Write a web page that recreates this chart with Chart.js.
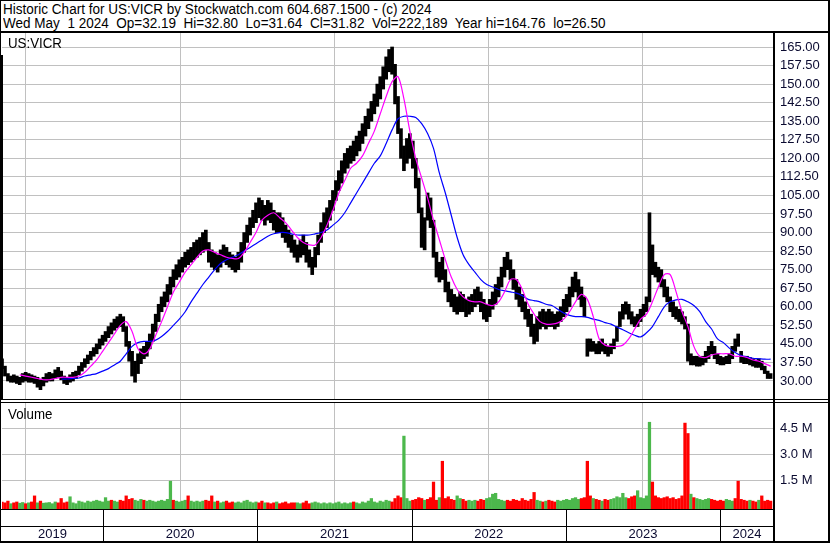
<!DOCTYPE html>
<html><head><meta charset="utf-8">
<script src="https://cdn.jsdelivr.net/npm/chart.js@4.4.1/dist/chart.umd.min.js"></script>
<style>
html,body{margin:0;padding:0;background:#fff;}
#wrap{position:relative;width:830px;height:543px;overflow:hidden;background:#fff;font-family:"Liberation Sans",Arial,sans-serif;}
.hl{position:absolute;background:#000;}
.txt{position:absolute;white-space:pre;font-size:14px;color:#000;line-height:14px;transform-origin:0 0;}
canvas{position:absolute;}
</style></head>
<body><div id="wrap">
<canvas id="pc" width="826" height="366" style="left:2px;top:33px"></canvas>
<canvas id="vc" width="826" height="140" style="left:2px;top:403px"></canvas>
<div class="txt" style="left:3px;top:2px;transform:scaleX(0.966)">Historic Chart for US:VICR by Stockwatch.com 604.687.1500 - (c) 2024</div>
<div class="txt" style="left:3px;top:16px;transform:scaleX(0.966)">Wed May  1 2024  Op=32.19  Hi=32.80  Lo=31.64  Cl=31.82  Vol=222,189  Year hi=164.76  lo=26.50</div>
<div class="txt" style="left:8px;top:36px;transform:scaleX(0.95)">US:VICR</div>
<div class="txt" style="left:8px;top:407px;transform:scaleX(0.95)">Volume</div>
<div class="hl" style="left:0;top:0;width:830px;height:1px"></div>
<div class="hl" style="left:0;top:0;width:1px;height:543px"></div>
<div class="hl" style="left:828px;top:0;width:2px;height:543px"></div>
<div class="hl" style="left:0;top:541px;width:830px;height:2px"></div>
<div class="hl" style="left:0;top:31px;width:830px;height:2px"></div>
<div class="hl" style="left:0;top:399px;width:830px;height:1px"></div>
<div class="hl" style="left:0;top:402px;width:830px;height:1px"></div>
<div class="hl" style="left:0;top:509px;width:775px;height:1px"></div>
<div class="hl" style="left:0;top:526px;width:775px;height:1px"></div>
<div class="hl" style="left:773px;top:31px;width:2px;height:512px"></div>
<div class="hl" style="left:0;top:55px;width:3px;height:344px"></div>
</div>
<script>
// ---------- DATA ----------
const firstWeek = Date.UTC(2019, 4, 7);       // first weekly bar
const axisStart = Date.UTC(2019, 4, 7);
const axisEnd   = Date.UTC(2024, 4, 8);
const yearLines = [2020, 2021, 2022, 2023, 2024];
const yearLabels = ['2019', '2020', '2021', '2022', '2023', '2024'];
const priceTicks = [30, 37.5, 45, 52.5, 60, 67.5, 75, 82.5, 90, 97.5, 105, 112.5, 120, 127.5, 135, 142.5, 150, 157.5, 165];
const volTicks = [1.5, 3.0, 4.5];

const weekHigh = [
39,36,33,32,32.5,32,31.5,33,33.5,33,
32.5,32,31.5,30.5,31.5,33,33.5,33,34.5,35.5,
34,32,31.5,32.5,33.5,34,36,37.5,39,40.5,
42,43.5,45,47,48.5,50,52,53.5,55,56,
57,56,52,46,42,38,41,43,44,46,
49,53,57,61,64,66,69,72,75,77,
79,80,82,83,84,86,87,88,90,91,
86,83,82,81,83,85,84,82,81,80,
82,86,90,93,96,99,102,104,103,101,
103,102,99,98,98,96,93,91,89,87,
85,87,89,86,83,80,84,89,94,98,
100,103,107,111,115,119,122,124,125,127,
129,131,134,137,140,143,146,150,153,157,
161,164,165,158,145,132,125,128,130,127,
120,112,100,96,106,104,95,82,78,80,
75,70,67,65,64,66,65,63,64,65,
67,68,66,63,61,63,66,69,72,76,
80,82,79,75,71,68,65,62,59,57,
53,56,58,59,58,59,58,57,58,60,
63,65,68,72,74,71,68,64,47,47,
46,45,46,47,45,44,45,47,52,58,
61,62,61,58,56,57,59,61,64,98,
85,78,76,75,71,68,64,62,60,59,
58,56,53,41,40,40,39.5,40,42,44,
46,44,41,40,39.5,40,41,44,47,49,
42,40,40,39.5,39,38.5,39,38,36,34,
33];
const weekLow = [
35,32,30,29.5,29.5,29,28.5,29.5,30,29.5,
29.5,29,27.5,26.5,28,29.5,30,30,31,31.5,
30.5,29,28.5,29.5,30,31,32.5,34,35.5,37,
38.5,40,41,43,44.5,46,47.5,49,50.5,51.5,
52,50,44,38,32,29.5,33,37,39,40,
43,46,50,54,58,60,62,65,68,71,
72,74,76,77,78,79,80,81,82,83,
78,76,75,74,76,78,77,76,75,74,
75,78,82,86,89,92,94,96,95,93,
95,94,91,90,90,88,86,84,82,80,
78,80,81,78,76,73,76,81,86,90,
92,95,99,103,107,110,114,116,118,119,
121,123,126,129,132,135,138,141,144,148,
152,155,154,142,130,120,115,118,120,116,
108,98,84,83,95,92,80,72,70,71,
66,62,60,58,57,58,58,56,57,58,
60,61,58,55,54,56,59,61,64,68,
72,75,71,67,63,60,58,55,52,48,
45,46,51,52,51,52,52,51,52,54,
56,58,60,64,66,63,60,56,40,42,
42,41,41,42,41,40,41,43,46,52,
55,57,55,53,52,52,54,56,58,62,
73,72,70,68,64,62,58,56,55,54,
53,51,38,36.5,36.5,36,36,36.5,37.5,39,
41,39,37,36.5,36.5,37,37,39,42,44,
37.5,37,37,36.5,36,35.5,35.5,34.5,33,31,
31];
// moving averages, one value every second week
const maShort = [
null,null,null,32.5,32,31.5,31,30.5,30.5,31,
31.5,31.5,31.5,32,33.5,36,38.5,42,45.5,49,
52.5,54,50,43,41,43,48.5,54,60,66,
70,74,77,80,82.5,83,82,81,80,79.5,
79.5,82,86,90,95,97,98,96,94,91,
88,86,85,85,88,93,99,106,111,116,
118,121,126,131,138,145,151,153,144,131,
120,112,104,95,87,79,72,67,64,62.5,
62,62,61,60.5,62,66,71,71,67,61,
57,54,53,53,53.5,55,58,62,65,63,
56,47,44.5,44,44,44.5,47,51,55,57,
62,68,73,73,66,58,52,44,40,39.5,
40.5,41,41,41,40,40,39.5,38.5,38,37,
36];
const maLong = [
null,null,null,null,null,null,null,null,null,null,
30.8,30.8,31,31.2,32,32.5,33,34,35,36.5,
38,41,44,45.5,46,46,46.5,48,50,52.5,
55,58,62,65.5,69,72,75,77.5,79,80,
81,82.5,84,85.5,87,88.5,89.5,90,90,89.5,
89,89,89,89.5,90,91,93,95,98,102,
106,110,114,118,121,126,131.5,136,137,137,
136.5,134,130,124,114,106,97,88,81,77,
74,71,69,68,67,66.5,66,65.5,64.5,63,
62.5,62,61,60.5,59,57.5,56.5,56,56,55.7,
55,54.5,53.6,53,51.8,50.7,49.5,48.5,47.8,49.5,
52,56,60,62,62.8,63,62,60.5,58,54,
51,47,45.5,43.3,41.5,40.3,39.7,39.2,39,38.8,
38.8];
// weekly volume (millions) and colour (g = up, r = down)
const volume = [
0.25,0.2,0.3,0.15,0.2,0.25,0.18,0.22,0.15,0.2,
0.25,0.6,0.2,0.3,0.18,0.2,0.22,0.15,0.25,0.2,
0.45,0.2,0.25,0.55,0.2,0.15,0.3,0.25,0.2,0.3,
0.25,0.3,0.35,0.3,0.25,0.5,0.3,0.35,0.3,0.25,
0.35,0.3,0.6,0.4,0.45,0.35,0.3,0.4,0.35,0.3,
0.35,0.3,0.25,0.3,0.35,0.3,0.4,1.45,0.35,0.3,
0.25,0.3,0.35,0.6,0.3,0.25,0.3,0.25,0.3,0.35,
0.3,0.6,0.25,0.3,0.2,0.25,0.3,0.2,0.25,0.2,
0.25,0.2,0.3,0.35,0.25,0.2,0.25,0.2,0.3,0.2,
0.2,0.15,0.2,0.25,0.15,0.2,0.25,0.15,0.2,0.2,
0.2,0.15,0.2,0.3,0.15,0.2,0.25,0.2,0.15,0.2,
0.15,0.2,0.15,0.2,0.25,0.15,0.2,0.15,0.2,0.25,
0.2,0.15,0.25,0.2,0.3,0.45,0.25,0.2,0.3,0.25,
0.35,0.3,0.25,0.45,0.6,0.5,4.05,0.45,0.3,0.35,
0.4,0.5,0.45,0.35,0.4,0.5,1.4,0.35,0.5,2.6,
0.45,0.55,0.4,0.35,0.6,0.45,0.4,0.3,0.35,0.3,
0.35,0.3,0.4,0.35,0.45,0.5,0.7,0.75,0.4,0.35,
0.3,0.35,0.3,0.4,0.35,0.3,0.45,0.35,0.3,0.4,
0.8,0.35,0.3,0.25,0.3,0.35,0.3,0.25,0.35,0.3,
0.35,0.4,0.35,0.45,0.5,0.4,0.45,0.5,2.6,0.6,
0.45,0.4,0.35,0.3,0.4,0.35,0.4,0.45,0.55,0.5,
0.75,0.5,0.45,0.55,0.6,0.9,0.5,0.45,0.6,4.85,
1.4,0.6,0.5,0.45,0.5,0.55,0.45,0.5,0.4,0.45,
0.6,4.8,4.2,0.7,0.5,0.45,0.4,0.35,0.4,0.45,
0.4,0.35,0.3,0.35,0.3,0.4,0.35,0.3,0.45,1.45,
0.4,0.35,0.3,0.35,0.3,0.25,0.35,0.6,0.3,0.35,
0.3];
const volColor =
"rrrgrrggrg"+"rrgrgggggr"+"rrrggggggg"+"gggggggrgg"+"rrrrrgggrg"+
"ggggggggrg"+"gggrgggggr"+"rrgrggrrrg"+"gggggggrrg"+"rrrgrrrrrr"+
"ggrrrggggg"+"gggggggggr"+"gggggggggg"+"ggrrrrgggr"+"rrrgrrrrgr"+
"rrrrggrrgg"+"grrrgggggg"+"grrrrrrrrr"+"rggrgrrrgg"+"ggggggrrrr"+
"grrgrrgggg"+"ggrrrggggg"+"rrrrrrrrrr"+"rrrgrggggg"+"rrrrrgggrr"+
"rrrgrrgrrr"+"r";

// ---------- helpers ----------
const DAY = 864e5;
function frac(ms){const d=new Date(ms);const y=d.getUTCFullYear();const s=Date.UTC(y,0,1),e=Date.UTC(y+1,0,1);return y+(ms-s)/(e-s);}
const weekX = i => frac(firstWeek + i*7*DAY);
const X_MIN = frac(axisStart), X_MAX = frac(axisEnd);
const P_MIN = 22.72, P_MAX = 170.66;
const V_MIN = -0.156, V_MAX = 5.96;
const GRID = '#c0c0c0';
const TXT = '#0a0a30';
const FONT = {family:'"Liberation Sans",Arial,sans-serif', size:13};
const noPad = s => { s.paddingTop = 0; s.paddingBottom = 0; s.paddingLeft = 0; s.paddingRight = 0; };

const pricePts = weekHigh.map((h,i)=>({x:weekX(i), y:[weekLow[i], h]}));
const maShortPts = maShort.map((v,k)=>({x:weekX(k*2), y:v})).filter(p=>p.y!==null);
const maLongPts = maLong.map((v,k)=>({x:weekX(k*2), y:v})).filter(p=>p.y!==null);
const volPts = volume.map((v,i)=>({x:weekX(i), y:[V_MIN, v]}));
const volCols = volume.map((v,i)=>volColor[i]==='g' ? '#4cb84c' : '#ff0000');

const common = {responsive:false, animation:false, devicePixelRatio:1, events:[],
  layout:{padding:0}, plugins:{legend:{display:false}, tooltip:{enabled:false}}};

new Chart(document.getElementById('pc'), {
  type:'bar',
  data:{datasets:[
    {type:'line', data:maShortPts, borderColor:'#ff00ff', borderWidth:1.2, pointRadius:0, tension:0.3, order:0},
    {type:'line', data:maLongPts, borderColor:'#0000ff', borderWidth:1.2, pointRadius:0, tension:0.3, order:0},
    {type:'bar', data:pricePts, backgroundColor:'#000', barThickness:3, grouped:false, order:1}
  ]},
  options:{...common,
    scales:{
      x:{type:'linear', min:X_MIN, max:X_MAX, offset:false,
         afterBuildTicks:s=>{s.ticks=yearLines.map(v=>({value:v}));},
         ticks:{display:false}, grid:{color:GRID, drawTicks:false}, border:{display:false},
         afterFit:s=>{s.height=0; noPad(s);}},
      y:{position:'right', min:P_MIN, max:P_MAX,
         afterBuildTicks:s=>{s.ticks=priceTicks.map(v=>({value:v}));},
         ticks:{callback:v=>v.toFixed(2), padding:6, color:TXT, font:FONT, autoSkip:false},
         grid:{color:GRID, drawTicks:false}, border:{display:false},
         afterFit:s=>{s.width=54; noPad(s);}}
    }}
});

const labelPos = [ (X_MIN+2020)/2, 2020.5, 2021.5, 2022.5, 2023.5, (2024+X_MAX)/2 ];
const sepPlugin = {id:'sep', afterDraw(ch){
  const c=ch.ctx, xs=ch.scales.x, a=ch.chartArea;
  c.save(); c.fillStyle='#000';
  yearLines.forEach(v=>{const px=Math.round(xs.getPixelForValue(v)); c.fillRect(px, a.bottom, 1, ch.height-a.bottom);});
  c.restore();
}};
new Chart(document.getElementById('vc'), {
  type:'bar',
  data:{datasets:[{data:volPts, backgroundColor:volCols, barThickness:2.6, grouped:false}]},
  options:{...common,
    scales:{
      x:{type:'linear', min:X_MIN, max:X_MAX, offset:false,
         afterBuildTicks:s=>{s.ticks=yearLines.map(v=>({value:v})).concat(labelPos.map(v=>({value:v})));},
         ticks:{callback:(v)=>{const k=labelPos.indexOf(v);return k>=0?yearLabels[k]:'';}, padding:18, color:TXT, font:FONT, maxRotation:0, autoSkip:false},
         grid:{color:c=>Number.isInteger(c.tick&&c.tick.value)?GRID:'rgba(0,0,0,0)', drawTicks:false}, border:{display:false},
         afterFit:s=>{s.height=34; noPad(s);}},
      y:{position:'right', min:V_MIN, max:V_MAX,
         afterBuildTicks:s=>{s.ticks=volTicks.map(v=>({value:v}));},
         ticks:{callback:v=>v.toFixed(1)+' M', padding:6, color:TXT, font:FONT, autoSkip:false},
         grid:{color:GRID, drawTicks:false}, border:{display:false},
         afterFit:s=>{s.width=54; noPad(s);}}
    }},
  plugins:[sepPlugin]
});
</script>
</body></html>
